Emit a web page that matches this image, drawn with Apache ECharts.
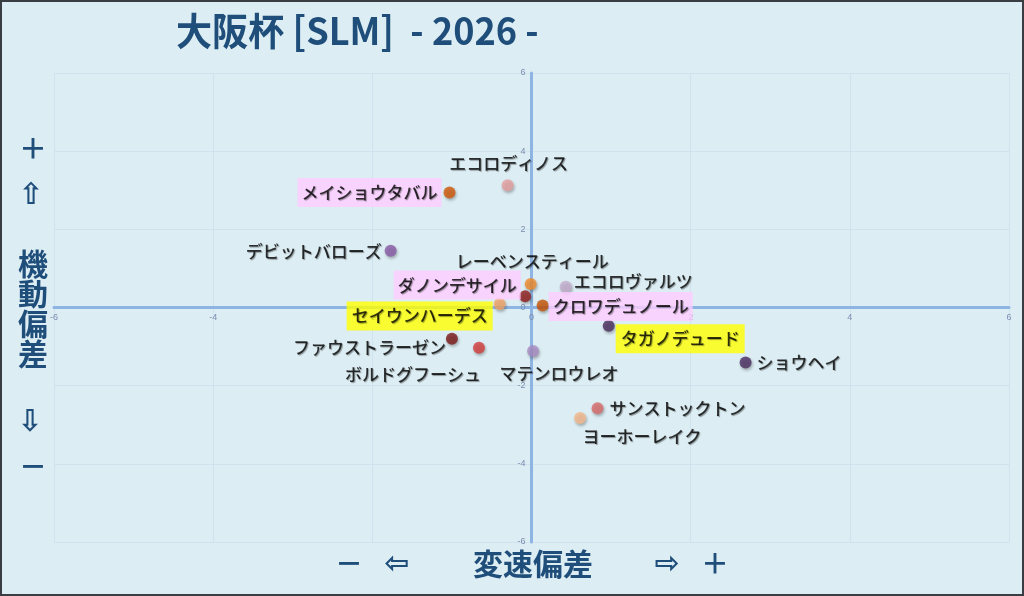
<!DOCTYPE html>
<html><head><meta charset="utf-8">
<script src="https://cdn.jsdelivr.net/npm/echarts@6/dist/echarts.min.js"></script>
<style>html,body{margin:0;padding:0;background:#dcedf3}#c{width:1024px;height:596px}</style>
</head><body><div id="c"></div><script>
// ---- data ----
const horseNames = ['エコロディノス','メイショウタバル','デビットバローズ','ダノンデサイル','レーベンスティール','セイウンハーデス','クロワデュノール','エコロヴァルツ','タガノデュード','ファウストラーゼン','ボルドグフーシュ','マテンロウレオ','ショウヘイ','サンストックトン','ヨーホーレイク'];
const speedDev    = [-0.30, -1.03, -1.77, -0.01, -0.08, -0.40, 0.14, 0.43, 0.97, -1.00, -0.66, 0.02, 2.69, 0.83, 0.61];
const mobilityDev = [ 3.13,  2.94,  1.45,  0.60,  0.29,  0.09, 0.05, 0.53, -0.47, -0.80, -1.03, -1.11, -1.41, -2.58, -2.83];
const pinkNames = ['メイショウタバル','ダノンデサイル','クロワデュノール'];
const yellowNames = ['セイウンハーデス','タガノデュード'];
const axisTicks = [-6, -4, -2, 0, 2, 4, 6];

// ---- styles ----
const pointColors = ['#e6a0a0','#d05808','#8a5aa6','#f08c2c','#8e1c1c','#f4a566','#c85406','#c4aed0','#4a2d5c','#7c1818','#d43c3c','#a98cc4','#4b2d62','#d86c6c','#f5b98c'];
const labelPlace = {
  'エコロディノス':   {position:'top', distance:5, offset:[1,-2]},
  'メイショウタバル': {position:'left', distance:2, offset:[0,0]},
  'デビットバローズ': {position:'left', distance:3, offset:[0,1]},
  'ダノンデサイル':   {position:'left', distance:4, offset:[0,1]},
  'レーベンスティール': {position:'top', distance:5, offset:[7,-15]},
  'セイウンハーデス': {position:'left', distance:1, offset:[0,12]},
  'クロワデュノール': {position:'right', distance:0, offset:[0,1]},
  'エコロヴァルツ':   {position:'right', distance:2, offset:[0,-5]},
  'タガノデュード':   {position:'right', distance:1, offset:[0,13]},
  'ファウストラーゼン': {position:'left', distance:0, offset:[0,9]},
  'ボルドグフーシュ': {position:'bottom', distance:5, offset:[-66,7]},
  'マテンロウレオ':   {position:'bottom', distance:5, offset:[26,3]},
  'ショウヘイ':       {position:'right', distance:5, offset:[0,0]},
  'サンストックトン': {position:'right', distance:6, offset:[0,0]},
  'ヨーホーレイク':   {position:'bottom', distance:5, offset:[62,-1]}
};

const navy = '#1f4e7a';
const jp = '"Noto Sans CJK JP", "Noto Sans", sans-serif';

const points = horseNames.map((n, i) => {
  const lp = labelPlace[n];
  const label = {position: lp.position, distance: lp.distance, offset: lp.offset};
  if (pinkNames.includes(n)) { label.backgroundColor = '#ffccff'; label.padding = [6, 4]; }
  else if (yellowNames.includes(n)) { label.backgroundColor = '#ffff00'; label.padding = [6, 5]; }
  return {name: n, value: [speedDev[i], mobilityDev[i]], itemStyle: {color: pointColors[i]}, label: label};
});

const gridBox = {left: 54, right: 15, top: 73, bottom: 54};
const plotW = 1024 - gridBox.left - gridBox.right;
const plotH = 596 - gridBox.top - gridBox.bottom;

function axisCfg(extra) {
  return Object.assign({
    type: 'value', min: axisTicks[0], max: axisTicks[axisTicks.length-1], interval: axisTicks[1]-axisTicks[0],
    axisLine: {onZero: false, lineStyle: {color: '#8db4e2', width: 3}},
    axisTick: {show: false},
    axisLabel: {color: '#7d8db0', fontSize: 9, fontFamily: 'Liberation Sans', margin: 6, showMinLabel: true, showMaxLabel: true},
    splitLine: {show: true, lineStyle: {color: '#cfe3ee', width: 1}}
  }, extra);
}

const arrowFont = 'bold 30px "DejaVu Sans", sans-serif';
const chart = echarts.init(document.getElementById('c'));
chart.setOption({
  backgroundColor: '#dcedf3',
  animation: false,
  grid: Object.assign({containLabel: false}, gridBox),
  xAxis: axisCfg({position: 'bottom', offset: -plotH / 2}),
  yAxis: axisCfg({position: 'left', offset: -plotW / 2}),
  series: [{
    type: 'scatter', symbolSize: 12, z: 5,
    itemStyle: {shadowBlur: 3, shadowColor: 'rgba(0,0,0,0.35)', shadowOffsetX: 1, shadowOffsetY: 2},
    label: {show: true, formatter: '{b}', color: '#000', fontSize: 17, fontWeight: 500, fontFamily: jp,
      textShadowColor: 'rgba(0,0,0,0.45)', textShadowBlur: 1, textShadowOffsetX: 1, textShadowOffsetY: 1},
    data: points
  }],
  graphic: [
    {type:'text', x: 176, y: 12, scaleX: 0.95, style:{text:'大阪杯 [SLM]  - 2026 -', fill: navy, font: 'bold 38px "Liberation Sans Narrow", "Noto Sans CJK JP", sans-serif'}},
    {type:'text', x: 33, y: 148, style:{text:'＋', fill: navy, font:'bold 28px '+jp, align:'center', verticalAlign:'middle'}},
    {type:'text', x: 31, y: 196, style:{text:'⇧', fill: navy, font: arrowFont, align:'center', verticalAlign:'middle'}},
    {type:'text', x: 33, y: 309, style:{text:'機\n動\n偏\n差', fill: navy, font:'bold 30px '+jp, lineHeight: 30, align:'center', verticalAlign:'middle'}},
    {type:'text', x: 30, y: 423, style:{text:'⇩', fill: navy, font: arrowFont, align:'center', verticalAlign:'middle'}},
    {type:'text', x: 33, y: 466, style:{text:'－', fill: navy, font:'bold 28px '+jp, align:'center', verticalAlign:'middle'}},
    {type:'text', x: 349, y: 563, style:{text:'－', fill: navy, font:'bold 28px '+jp, align:'center', verticalAlign:'middle'}},
    {type:'text', x: 397, y: 565, style:{text:'⇦', fill: navy, font: arrowFont, align:'center', verticalAlign:'middle'}},
    {type:'text', x: 533, y: 564, style:{text:'変速偏差', fill: navy, font:'bold 30px '+jp, align:'center', verticalAlign:'middle'}},
    {type:'text', x: 667, y: 565, style:{text:'⇨', fill: navy, font: arrowFont, align:'center', verticalAlign:'middle'}},
    {type:'text', x: 715, y: 563, style:{text:'＋', fill: navy, font:'bold 28px '+jp, align:'center', verticalAlign:'middle'}},
    {type:'rect', shape:{x:1, y:1, width:1022, height:594}, style:{fill:'none', stroke:'#3a3d42', lineWidth:2}, z: 100}
  ]
});
</script></body></html>
